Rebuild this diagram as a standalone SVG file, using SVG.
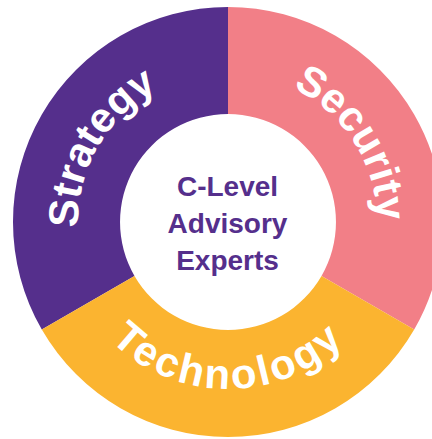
<svg xmlns="http://www.w3.org/2000/svg" width="432" height="439" viewBox="0 0 432 439">
  <style>
    .ring { font-family: "Liberation Sans", Arial, sans-serif; font-weight: bold; font-size: 42px; fill: #ffffff; }
    .center { font-family: "Liberation Sans", Arial, sans-serif; font-weight: bold; font-size: 28px; fill: #552f8c; text-anchor: middle; }
  </style>
  <defs>
    <path id="arcStrategy" d="M98.1,297 A150,150 0 0 1 228,72"/>
    <path id="arcSecurity" d="M228,73 A149,149 0 0 1 357,296.5"/>
    <path id="arcTechnology" d="M83.4,305.5 A167,167 0 0 0 372.6,305.5"/>
  </defs>
  <rect width="432" height="439" fill="#ffffff"/>
  <g id="strategy">
    <path d="M41.8,329.5 A215,215 0 0 1 228,7 L228,114 A108,108 0 0 0 134.5,276 Z" fill="#552f8c"/>
    <text class="ring"><textPath href="#arcStrategy" startOffset="50%" text-anchor="middle">Strategy</textPath></text>
  </g>
  <g id="security">
    <path d="M228,7 A215,215 0 0 1 414.2,329.5 L321.5,276 A108,108 0 0 0 228,114 Z" fill="#f27f87"/>
    <text class="ring"><textPath href="#arcSecurity" startOffset="48%" text-anchor="middle">Security</textPath></text>
  </g>
  <g id="technology">
    <path d="M414.2,329.5 A215,215 0 0 1 41.8,329.5 L134.5,276 A108,108 0 0 0 321.5,276 Z" fill="#fbb430"/>
    <text class="ring" letter-spacing="2.8"><textPath href="#arcTechnology" startOffset="50%" text-anchor="middle">Technology</textPath></text>
  </g>
  <g id="center">
    <text class="center" x="227.5" y="196">C-Level</text>
    <text class="center" x="227.5" y="233">Advisory</text>
    <text class="center" x="227.5" y="270">Experts</text>
  </g>
  <g id="connectors"></g>
</svg>
